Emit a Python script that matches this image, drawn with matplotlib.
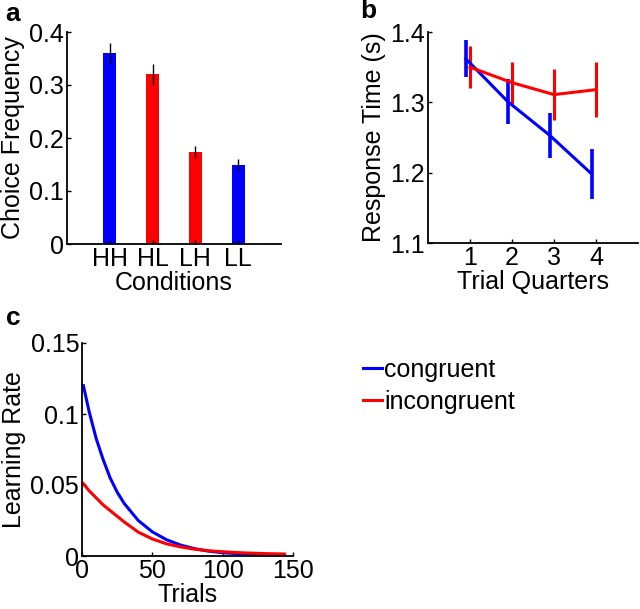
import numpy as np
import matplotlib
matplotlib.use("Agg")
import matplotlib.pyplot as plt

plt.rcParams['font.family'] = ['Liberation Sans', 'DejaVu Sans']
plt.rcParams['font.size'] = 18

# ---- Panel a data ----
conditions = ['HH', 'HL', 'LH', 'LL']
choice_freq = [0.36, 0.32, 0.174, 0.149]
choice_err = [0.019, 0.020, 0.011, 0.011]
bar_colors = ['#0000ff', '#ff0000', '#ff0000', '#0000ff']
a_yticks = [0, 0.1, 0.2, 0.3, 0.4]
a_yticklabels = ['0', '0.1', '0.2', '0.3', '0.4']

# ---- Panel b data ----
quarters = [1, 2, 3, 4]
rt_congruent = [1.362, 1.301, 1.253, 1.198]
rt_congruent_err = [0.026, 0.032, 0.032, 0.036]
rt_incongruent = [1.350, 1.328, 1.311, 1.318]
rt_incongruent_err = [0.030, 0.030, 0.036, 0.039]
b_yticks = [1.1, 1.2, 1.3, 1.4]
b_yticklabels = ['1.1', '1.2', '1.3', '1.4']

# ---- Panel c data ----
trials = [1, 5, 10, 15, 20, 25, 30, 40, 50, 60, 70, 80, 90, 100, 115, 130, 144]
lr_congruent = [0.120, 0.102, 0.083, 0.068, 0.055, 0.045, 0.037, 0.025, 0.017,
                0.0115, 0.0077, 0.0052, 0.0034, 0.0023, 0.0014, 0.0009, 0.0007]
lr_incongruent = [0.051, 0.046, 0.041, 0.036, 0.032, 0.028, 0.024, 0.0168, 0.012,
                  0.0086, 0.0064, 0.0048, 0.0037, 0.0030, 0.0022, 0.0017, 0.0014]
c_yticks = [0, 0.05, 0.1, 0.15]
c_yticklabels = ['0', '0.05', '0.1', '0.15']
c_xticks = [0, 50, 100, 150]

BLUE = '#0000ff'
RED = '#ff0000'

W, H = 640, 609
fig = plt.figure(figsize=(W / 100, H / 100), dpi=100)


def rect(l, t, r, b):
    return [l / W, 1 - b / H, (r - l) / W, (b - t) / H]


def style(ax):
    for s in ['top', 'right']:
        ax.spines[s].set_visible(False)
    for s in ['left', 'bottom']:
        ax.spines[s].set_linewidth(1.3)
    ax.tick_params(direction='in', length=3, width=1, pad=2, labelsize=18)


# Panel a
axa = fig.add_axes(rect(67, 32, 281, 244))
xa = np.arange(1, len(conditions) + 1)
axa.bar(xa, choice_freq, width=0.3, color=bar_colors)
axa.errorbar(xa, choice_freq, yerr=choice_err, fmt='none', ecolor='black',
             elinewidth=1.0, capsize=0)
axa.set_xlim(0, 5)
axa.set_ylim(0, 0.4)
axa.set_xticks(xa)
axa.set_xticklabels(conditions)
axa.set_yticks(a_yticks)
axa.set_yticklabels(a_yticklabels)
style(axa)
axa.set_ylabel('Choice Frequency', labelpad=3)
axa.set_xlabel('Conditions', labelpad=0)

# Panel b
axb = fig.add_axes(rect(428, 32, 638, 243))
xq = np.array(quarters, dtype=float)
axb.errorbar(xq - 0.1, rt_congruent, yerr=rt_congruent_err, color=BLUE,
             lw=2.2, elinewidth=2.6, capsize=0)
axb.errorbar(xq, rt_incongruent, yerr=rt_incongruent_err, color=RED,
             lw=2.2, elinewidth=2.2, capsize=0)
axb.set_xlim(0, 5)
axb.set_ylim(1.1, 1.4)
axb.set_xticks(quarters)
axb.set_yticks(b_yticks)
axb.set_yticklabels(b_yticklabels)
style(axb)
axb.set_ylabel('Response Time (s)', labelpad=3)
axb.set_xlabel('Trial Quarters', labelpad=0)

# Panel c
axc = fig.add_axes(rect(82, 343, 293, 556))
l1, = axc.plot(trials, lr_congruent, color=BLUE, lw=2.2, label='congruent')
l2, = axc.plot(trials, lr_incongruent, color=RED, lw=2.2, label='incongruent')
axc.set_xlim(0, 150)
axc.set_ylim(0, 0.15)
axc.set_xticks(c_xticks)
axc.set_yticks(c_yticks)
axc.set_yticklabels(c_yticklabels)
style(axc)
axc.set_ylabel('Learning Rate', labelpad=3)
axc.set_xlabel('Trials', labelpad=0)

fig.legend(handles=[l1, l2], labels=['congruent', 'incongruent'],
           loc='upper left', bbox_to_anchor=(363 / W, 1 - 358 / H),
           frameon=False, borderpad=0, borderaxespad=0, handlelength=0.75,
           handletextpad=0.1, labelspacing=0.32, fontsize=18)

# panel letters
fig.text(5 / W, 1 - 21 / H, 'a', fontsize=19, fontweight='bold', va='baseline')
fig.text(360 / W, 1 - 18 / H, 'b', fontsize=19, fontweight='bold', va='baseline')
fig.text(6 / W, 1 - 325 / H, 'c', fontsize=19, fontweight='bold', va='baseline')

fig.savefig('out.png', dpi=100)
